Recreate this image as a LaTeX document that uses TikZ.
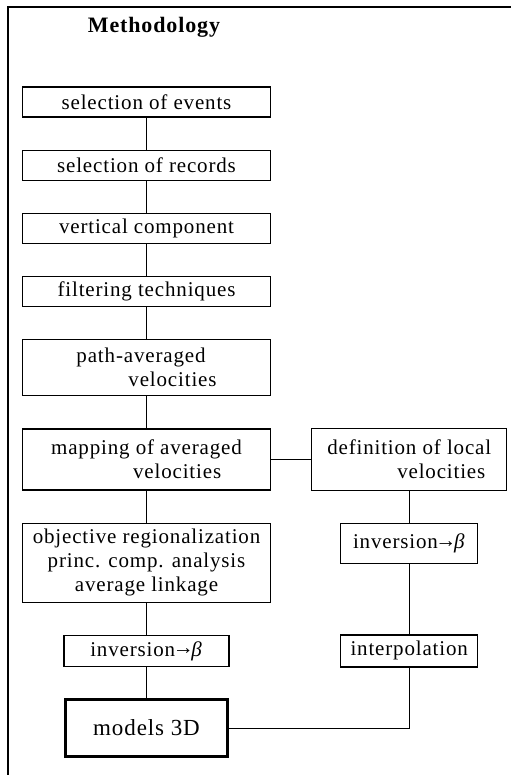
\documentclass[tikz,border=0pt]{standalone}
\usepackage{fontspec}
\setmainfont{Liberation Serif}[LetterSpace=4]
\usetikzlibrary{positioning}
\newcommand{\toarrow}{\kern-1.2pt\raisebox{0.9pt}{\addfontfeature{LetterSpace=0}→}\kern-1.2pt}

\begin{document}
\begin{tikzpicture}[node distance=16pt, line width=0.6pt, font=\fontsize{10.5}{12}\selectfont,
    main/.style = {draw, rectangle, minimum width=124pt, minimum height=15pt, inner sep=1pt, align=center},
    small/.style = {draw, rectangle, minimum width=68.5pt, minimum height=16pt, inner sep=1pt, align=center}]
    \useasboundingbox (0,0) rectangle (255.5pt,-387.5pt);
    \draw (4pt,-387.5pt) -- (4pt,-3.5pt) -- (255.5pt,-3.5pt);

    \node[font=\fontsize{11}{12}\selectfont\bfseries, anchor=base] (0) at (77pt,-16.5pt) {Methodology};

    \node[main] (1) at (73.25pt,-51pt) {selection of events};
    \node[main](2)[below=of 1]{selection of records};
    \node[main](3)[below=of 2]{vertical component};
    \node[main](4)[below=of 3]{filtering techniques};
    \node[main, minimum height=28pt, align=left](5)[below=of 4]{path-averaged\\\hspace*{26pt}velocities};
    \node[main, minimum height=30.5pt, align=left](6)[below=of 5]{mapping of averaged\\\hspace*{41pt}velocities};
    \node[main, minimum height=39.5pt](7)[below=of 6]{objective regionalization\\princ. comp. analysis\\average linkage};
    \node[main, minimum width=82.5pt, minimum height=15.5pt](8)[below=of 7]{inversion\toarrow\textit{β}};
    \node[main, minimum width=81pt, minimum height=28.5pt, line width=1.6pt, font=\fontsize{11.5}{12}\selectfont](9)[below=15.5pt of 8]{models 3D};

    \node[draw, minimum width=97.5pt, minimum height=31pt, inner sep=1pt, align=left](10)[right=20pt of 6]{definition of local\\\hspace*{35pt}velocities};
    \node[small, minimum height=20pt](11)[below=of 10]{inversion\toarrow\textit{β}};
    \node[small](12)[below=35pt of 11]{interpolation};

    \path
    (1) edge (2)
    (2) edge (3)
    (3) edge (4)
    (4) edge (5)
    (5) edge (6)
    (6) edge (7)
    (7) edge (8)
    (8) edge (9)

    (6) edge (10)
    (10) edge (11)
    (11) edge (12)
    ;
    \draw (12) |- (9);
  \end{tikzpicture}
\end{document}
